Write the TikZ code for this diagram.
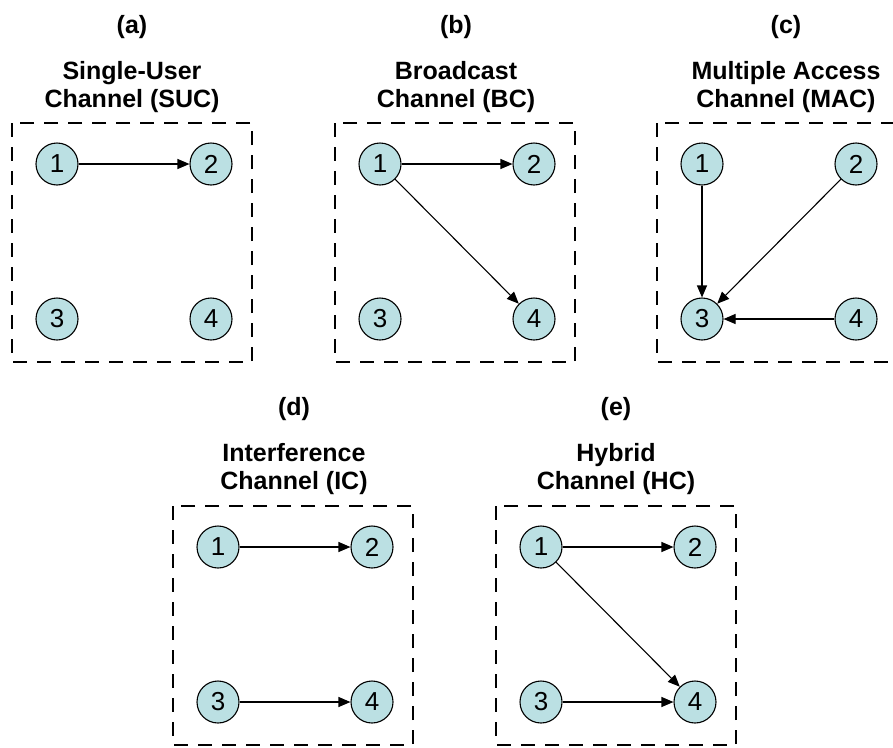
\documentclass[tikz,border=0pt]{standalone}
\usepackage{fontspec}
\setmainfont{Liberation Sans}
\usetikzlibrary{arrows.meta}
\definecolor{ink}{HTML}{000000}
\definecolor{nodefill}{HTML}{BBE0E3}
\tikzset{
  user/.style={
    circle,
    draw=ink,
    fill=nodefill,
    line width=1.1pt,
    minimum size=42pt,
    inner sep=0pt,
    font=\fontsize{26}{28}\selectfont
  },
  link/.style={
    -{Triangle[length=12pt,width=10pt]},
    line width=1.1pt,
    draw=ink
  },
  panel/.style={
    draw=ink,
    line width=1.8pt,
    dash pattern=on 14pt off 10pt
  },
  tag/.style={
    anchor=base,
    font=\bfseries\fontsize{25}{28}\selectfont
  },
  heading/.style={
    anchor=base,
    align=center,
    font=\bfseries\fontsize{25}{28}\selectfont
  }
}
\begin{document}
\begin{tikzpicture}[x=1pt,y=-1pt]
  \useasboundingbox (0,0) rectangle (893,747);

  % Dashed frames, each with users 1-4 on a square grid.
  \foreach \p/\l/\t in {a/12/123, b/335/123, c/657/123, d/173/506, e/496/506}{
    \draw[panel] (\l,\t) rectangle ++(240,239);
    \node[user] (\p1) at (\l+45,\t+41) {1};
    \node[user] (\p2) at (\l+199,\t+41) {2};
    \node[user] (\p3) at (\l+45,\t+196) {3};
    \node[user] (\p4) at (\l+199,\t+196) {4};
  }

  % Panel tags and channel names (base = last line).
  \node[tag] (tag-a) at (132,33) {(a)};
  \node[heading] (head-a) at (132,107) {Single-User\\Channel (SUC)};
  \node[tag] (tag-b) at (456,33) {(b)};
  \node[heading] (head-b) at (456,107) {Broadcast\\Channel (BC)};
  \node[tag] (tag-c) at (786,33) {(c)};
  \node[heading] (head-c) at (786,107) {Multiple Access\\Channel (MAC)};
  \node[tag] (tag-d) at (294,415) {(d)};
  \node[heading] (head-d) at (294,489) {Interference\\Channel (IC)};
  \node[tag] (tag-e) at (616,415) {(e)};
  \node[heading] (head-e) at (616,489) {Hybrid\\Channel (HC)};

  % Links.
  \draw[link] (a1) -- (a2);
  \draw[link] (b1) -- (b2);
  \draw[link] (b1) -- (b4);
  \draw[link] (c1) -- (c3);
  \draw[link] (c2) -- (c3);
  \draw[link] (c4) -- (c3);
  \draw[link] (d1) -- (d2);
  \draw[link] (d3) -- (d4);
  \draw[link] (e1) -- (e2);
  \draw[link] (e1) -- (e4);
  \draw[link] (e3) -- (e4);
\end{tikzpicture}
\end{document}
